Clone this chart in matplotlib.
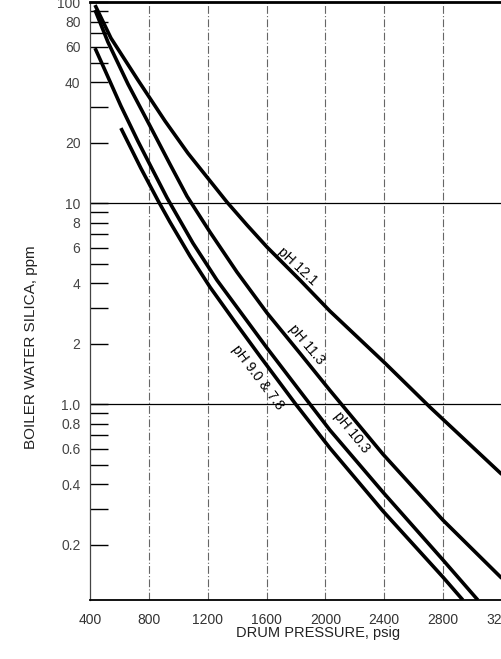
import numpy as np
import matplotlib
matplotlib.use("Agg")
import matplotlib.pyplot as plt
from matplotlib.ticker import FixedLocator, NullFormatter

plt.rcParams['font.family'] = ['Liberation Sans', 'DejaVu Sans']

# data (drum pressure psig, silica ppm)
p_121 = [433, 541, 725, 909, 1065, 1215, 1331, 1467, 1603, 1827, 2031, 2405, 2711, 3200]
s_121 = [96.6, 66.2, 40.9, 25.6, 17.7, 12.9, 10.1, 7.77, 6.04, 4.14, 2.90, 1.60, 0.966, 0.447]

p_113 = [433, 521, 657, 807, 943, 1059, 1215, 1398, 1603, 1827, 2031, 2391, 2799, 3200]
s_113 = [91.3, 63.2, 39.1, 24.2, 15.6, 10.8, 7.17, 4.54, 2.84, 1.79, 1.17, 0.564, 0.265, 0.136]

p_103 = [433, 500, 609, 725, 807, 923, 1099, 1262, 1603, 1827, 2031, 2391, 2799, 3037]
s_103 = [59.0, 45.9, 30.4, 20.3, 15.5, 10.6, 6.32, 4.14, 1.90, 1.16, 0.742, 0.365, 0.168, 0.106]

p_90 = [609, 745, 861, 943, 1079, 1215, 1385, 1555, 1793, 2031, 2391, 2799, 2935]
s_90 = [23.6, 14.9, 10.3, 8.04, 5.45, 3.82, 2.56, 1.73, 1.01, 0.604, 0.294, 0.138, 0.106]

x_ticks = [400, 800, 1200, 1600, 2000, 2400, 2800, 3200]
y_ticks = [100, 80, 60, 40, 20, 10, 8, 6, 4, 2, 1.0, 0.8, 0.6, 0.4, 0.2]
y_tick_labels = ['100', '80', '60', '40', '20', '10', '8', '6', '4', '2',
                 '1.0', '0.8', '0.6', '0.4', '0.2']
y_minor = [90, 70, 50, 30, 9, 7, 5, 3, 0.9, 0.7, 0.5, 0.3]

# curve labels: text, psig, ppm, rotation
curve_labels = [
    ('pH 12.1', 1807, 4.86, -43),
    ('pH 11.3', 1874, 1.97, -50),
    ('pH 9.0 & 7.8', 1541, 1.35, -53),
    ('pH 10.3', 2181, 0.726, -51),
]

fig = plt.figure(figsize=(5.01, 6.59), dpi=100)
ax = fig.add_axes([0.180, 0.0895, 0.8216, 0.9074])

ax.set_yscale('log')
ax.set_xlim(400, 3200)
ax.set_ylim(0.106, 100)

# grid
for xv in x_ticks[1:-1]:
    ax.axvline(xv, color='#666666', lw=0.8, ls=(0, (7, 2, 1, 2)), zorder=1)
for yv in [10, 1.0]:
    ax.axhline(yv, color='black', lw=0.9, zorder=1)

for p, s in [(p_121, s_121), (p_113, s_113), (p_103, s_103), (p_90, s_90)]:
    ax.plot(p, s, color='black', lw=2.6, solid_capstyle='butt',
            solid_joinstyle='round', zorder=3)

for txt, xv, yv, rot in curve_labels:
    ax.text(xv, yv, txt, rotation=rot, rotation_mode='anchor',
            ha='center', va='center', fontsize=10, color='black', zorder=4)

# axes / ticks
ax.spines['right'].set_visible(False)
ax.spines['top'].set_linewidth(2)
ax.spines['bottom'].set_linewidth(1.3)
ax.spines['left'].set_linewidth(0.9)
ax.spines['left'].set_color('#444444')

ax.xaxis.set_major_locator(FixedLocator(x_ticks))
ax.set_xticklabels([str(v) for v in x_ticks])
ax.xaxis.set_minor_formatter(NullFormatter())
ax.tick_params(axis='x', which='both', length=0, pad=9, labelsize=10,
               labelcolor='#333333')

ax.yaxis.set_major_locator(FixedLocator(y_ticks))
ax.set_yticklabels(y_tick_labels)
ax.yaxis.set_minor_locator(FixedLocator(y_minor))
ax.yaxis.set_minor_formatter(NullFormatter())
ax.tick_params(axis='y', which='both', direction='in', length=13, width=1,
               pad=7, labelsize=10, labelcolor='#444444')

fig.text(318 / 501, 1 - 633 / 659, 'DRUM PRESSURE, psig', ha='center',
         va='center', fontsize=10.5, color='#222222')
fig.text(31 / 501, 1 - 347 / 659, 'BOILER WATER SILICA, ppm', rotation=90,
         ha='center', va='center', fontsize=11, color='#222222')

fig.savefig('out.png', dpi=100)
